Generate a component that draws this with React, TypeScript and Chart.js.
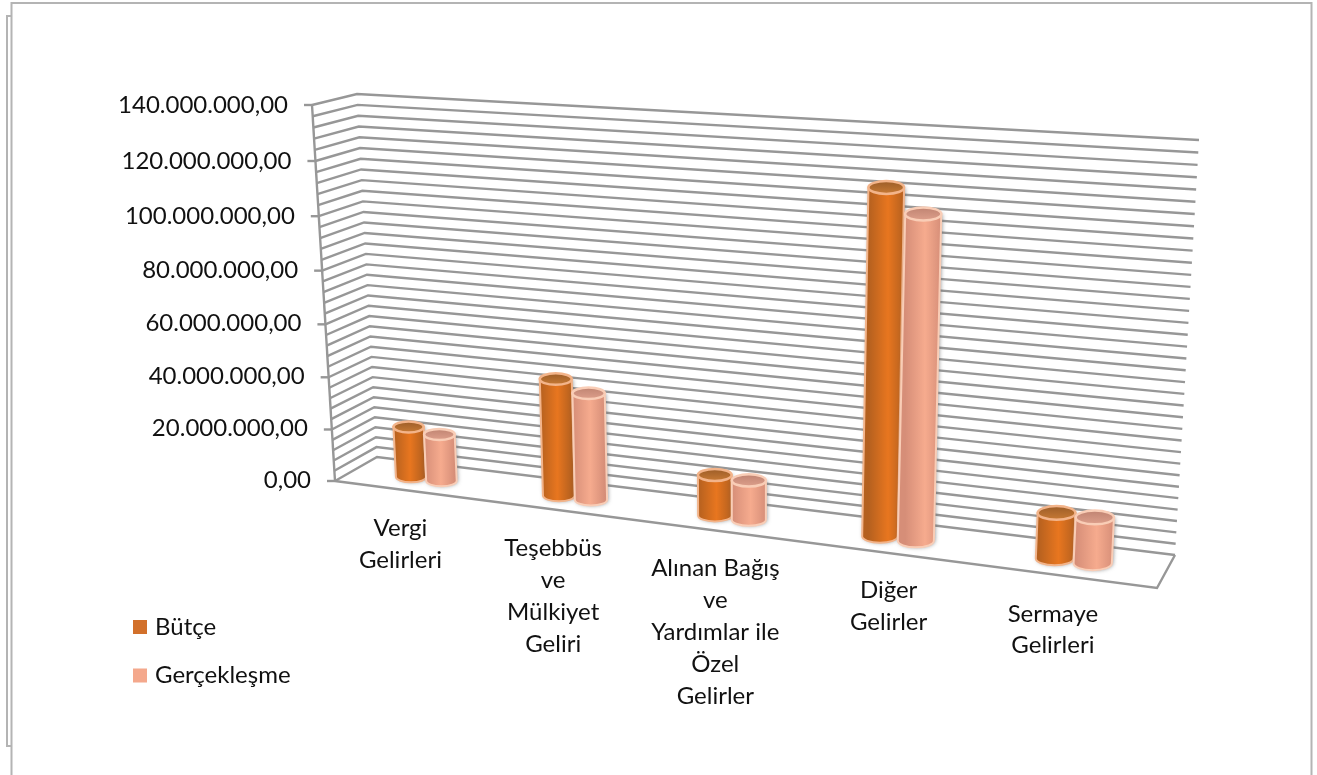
import React, { useEffect, useRef } from "react";
import { Chart, registerables, LinearScale, CategoryScale } from "chart.js";

const categories = [
  ["Vergi", "Gelirleri"],
  ["Teşebbüs", "ve", "Mülkiyet", "Geliri"],
  ["Alınan Bağış", "ve", "Yardımlar ile", "Özel", "Gelirler"],
  ["Diğer", "Gelirler"],
  ["Sermaye", "Gelirleri"],
];
const butce = [19500000, 44000000, 15000000, 121500000, 16000000];
const gerceklesme = [18000000, 40000000, 14500000, 113500000, 16000000];
const seriesNames = ["Bütçe", "Gerçekleşme"];
const seriesColors = ["#d2702a", "#f4a88c"];
const yMax = 140000000;
const yStep = 20000000;
const gridStep = 4000000;

const FONT = "Lato";
const FONT_SIZE = 24;

// 3D box corners as seen on screen: front/back, left/right, bottom/top
const BOX = {
  flb: [335, 481], flt: [312, 105],
  blb: [377, 457], blt: [357, 94],
  frb: [1157, 588], frt: [1179, 157],
  brb: [1175, 555], brt: [1199, 140],
};
const lerp = (a: number, b: number, t: number) => a + (b - a) * t;
const lerp2 = (a: number[], b: number[], t: number) => [lerp(a[0], b[0], t), lerp(a[1], b[1], t)];
// u: left→right, d: front→back, v: bottom→top
function project(u: number, d: number, v: number) {
  const fb = lerp2(BOX.flb, BOX.frb, u);
  const ft = lerp2(BOX.flt, BOX.frt, u);
  const bb = lerp2(BOX.blb, BOX.brb, u);
  const bt = lerp2(BOX.blt, BOX.brt, u);
  return lerp2(lerp2(fb, bb, d), lerp2(ft, bt, d), v);
}
const foreshortenX = (u: number) => u / (u + 1.15 * (1 - u));
const foreshortenY = (d: number) => d / (d + 1.05 * (1 - d));
const BAR_DEPTH = 0.47;
const LABEL_NUDGE = [-7, -5, -2, 3, -11];

class PerspectiveLinear extends LinearScale {
  static id = "perspectiveLinear";
  static defaults = {};
  getPixelForValue(value: number) {
    if (value === null) return NaN;
    const s = this as any;
    return this.getPixelForDecimal(foreshortenY((value - s._startValue) / s._valueRange));
  }
  _computeLabelItems(ca: any) {
    const items = (LinearScale.prototype as any)._computeLabelItems.call(this, ca);
    const s = this as any;
    for (const it of items) {
      const [, y] = it.options.translation;
      const v = (s.bottom - y) / (s.bottom - s.top);
      it.options.translation = [project(0, 0, v)[0] - 24, y];
    }
    return items;
  }
}

class PerspectiveCategory extends CategoryScale {
  static id = "perspectiveCategory";
  static defaults = {};
  _computeLabelItems(ca: any) {
    const items = (CategoryScale.prototype as any)._computeLabelItems.call(this, ca);
    const s = this as any;
    items.forEach((it: any, i: number) => {
      const [x] = it.options.translation;
      const u = foreshortenX((x - s.left) / (s.right - s.left));
      const p = project(u, 0, 0);
      it.options.translation = [p[0] + LABEL_NUDGE[i], p[1] + 22];
    });
    return items;
  }
}

Chart.register(...registerables, PerspectiveLinear, PerspectiveCategory);

function polyline(ctx: CanvasRenderingContext2D, pts: number[][]) {
  ctx.beginPath();
  pts.forEach((p, i) => (i ? ctx.lineTo(p[0], p[1]) : ctx.moveTo(p[0], p[1])));
  ctx.stroke();
}

const frameAndLegend = {
  id: "frameAndLegend",
  beforeDraw(chart: any) {
    const { ctx, width, height } = chart;
    ctx.save();
    ctx.fillStyle = "#fff";
    ctx.fillRect(0, 0, width, height);
    ctx.strokeStyle = "#b4b4b4";
    ctx.lineWidth = 2;
    polyline(ctx, [[11.5, 775], [11.5, 3], [1311.5, 3], [1311.5, 775]]);
    polyline(ctx, [[11.5, 16], [7, 16], [7, 746], [11.5, 746]]);
    ctx.font = `${FONT_SIZE}px ${FONT}`;
    ctx.textBaseline = "middle";
    seriesNames.forEach((name, i) => {
      const cy = 627 + i * 48.5;
      ctx.fillStyle = seriesColors[i];
      ctx.fillRect(133, cy - 7, 14, 14);
      ctx.fillStyle = "#111";
      ctx.fillText(name, 155, cy);
    });
    ctx.restore();
  },
};

function cylinder(ctx: CanvasRenderingContext2D, xl: number, xr: number, top: number[], base: number[], i: number) {
  const pal = i === 0
    ? { edge: "#b4601f", mid: "#e8761f", lid: "#9c5d28", lid2: "#c77a35", rim: "#f3b48a" }
    : { edge: "#d68e78", mid: "#f6ab8e", lid: "#c08472", lid2: "#dd9f8b", rim: "#f9cdb6" };
  const rx = (xr - xl) / 2;
  const ry = rx * 0.36;
  const g = ctx.createLinearGradient(top[0] - rx, 0, top[0] + rx, 0);
  g.addColorStop(0, pal.edge);
  g.addColorStop(0.55, pal.mid);
  g.addColorStop(1, pal.edge);
  ctx.save();
  ctx.shadowColor = "rgba(90,90,90,0.7)";
  ctx.shadowBlur = 4;
  ctx.shadowOffsetX = 1;
  ctx.beginPath();
  ctx.moveTo(top[0] - rx, top[1]);
  ctx.lineTo(base[0] - rx, base[1]);
  ctx.ellipse(base[0], base[1], rx, ry, 0, Math.PI, 0, true);
  ctx.lineTo(top[0] + rx, top[1]);
  ctx.closePath();
  ctx.fillStyle = g;
  ctx.fill();
  ctx.restore();
  ctx.save();
  ctx.strokeStyle = pal.rim;
  ctx.lineWidth = 2;
  ctx.stroke();
  ctx.beginPath();
  ctx.ellipse(top[0], top[1], rx, ry, 0, 0, Math.PI * 2);
  const lg = ctx.createLinearGradient(0, top[1] - ry, 0, top[1] + ry);
  lg.addColorStop(0, pal.lid);
  lg.addColorStop(1, pal.lid2);
  ctx.fillStyle = lg;
  ctx.fill();
  ctx.lineWidth = 2.5;
  ctx.stroke();
  ctx.restore();
}

const scene = {
  id: "scene",
  beforeDatasetsDraw(chart: any) {
    const { ctx, chartArea: a, scales } = chart;
    const y = scales.y;
    const vOf = (val: number) => (a.bottom - y.getPixelForValue(val)) / (a.bottom - a.top);
    ctx.save();
    ctx.filter = "blur(0.7px)";
    ctx.strokeStyle = "#979797";
    ctx.lineWidth = 2.4;
    for (let val = 0; val <= yMax; val += gridStep) {
      const v = vOf(val);
      polyline(ctx, [project(0, 0, v), project(0, 1, v), project(1, 1, v)]);
    }
    polyline(ctx, [project(0, 0, 0), project(0, 0, 1)]);
    polyline(ctx, [project(0, 0, 0), project(1, 0, 0), project(1, 1, 0)]);
    for (let val = 0; val <= yMax; val += yStep) {
      const p = project(0, 0, vOf(val));
      polyline(ctx, [[p[0] - 8, p[1]], p]);
    }
    ctx.filter = "none";
    ctx.restore();

    ctx.save();
    ctx.filter = "blur(0.6px)";
    const metas = [chart.getDatasetMeta(0), chart.getDatasetMeta(1)];
    categories.forEach((_, c) => {
      metas.forEach((meta, i) => {
        const el = meta.data[c];
        const W = a.right - a.left;
        const uL = foreshortenX((el.x - el.width / 2 - a.left) / W);
        const uR = foreshortenX((el.x + el.width / 2 - a.left) / W);
        const uC = (uL + uR) / 2;
        const v = (a.bottom - el.y) / (a.bottom - a.top);
        const base = project(uC, BAR_DEPTH, 0);
        const top = project(uC, BAR_DEPTH, v);
        const xl = project(uL, BAR_DEPTH, 0)[0];
        const xr = project(uR, BAR_DEPTH, 0)[0];
        cylinder(ctx, xl, xr, top, base, i);
      });
    });
    ctx.filter = "none";
    ctx.restore();
    return false;
  },
};

export default function App() {
  const ref = useRef<HTMLCanvasElement>(null);
  useEffect(() => {
    const chart = new Chart(ref.current!, {
      type: "bar",
      data: {
        labels: categories as any,
        datasets: [
          { label: seriesNames[0], data: butce, backgroundColor: seriesColors[0] },
          { label: seriesNames[1], data: gerceklesme, backgroundColor: seriesColors[1] },
        ],
      },
      options: {
        animation: false,
        responsive: false,
        layout: { padding: { top: 105, left: 0, right: 160, bottom: 0 } },
        categoryPercentage: 0.42,
        barPercentage: 1,
        plugins: { legend: { display: false }, tooltip: { enabled: false } },
        scales: {
          x: {
            type: "perspectiveCategory",
            afterFit: (s: any) => { s.height = 295; },
            grid: { display: false },
            border: { display: false },
            ticks: {
              autoSkip: false, maxRotation: 0, minRotation: 0,
              color: "#111",
              font: { family: FONT, size: FONT_SIZE, lineHeight: 1.33 },
            },
          },
          y: {
            type: "perspectiveLinear",
            min: 0,
            max: yMax,
            afterFit: (s: any) => { s.width = 335; },
            grid: { display: false },
            border: { display: false },
            ticks: {
              stepSize: yStep,
              color: "#111",
              font: { family: FONT, size: FONT_SIZE },
              callback: (v: any) =>
                Number(v).toLocaleString("tr-TR", { minimumFractionDigits: 2, maximumFractionDigits: 2 }),
            },
          },
        },
      } as any,
      plugins: [frameAndLegend, scene],
    } as any);
    return () => chart.destroy();
  }, []);
  return (
    <div style={{ position: "absolute", left: 0, top: 0, width: 1317, height: 775 }}>
      <canvas ref={ref} width={1317} height={775} style={{ display: "block" }} />
    </div>
  );
}
